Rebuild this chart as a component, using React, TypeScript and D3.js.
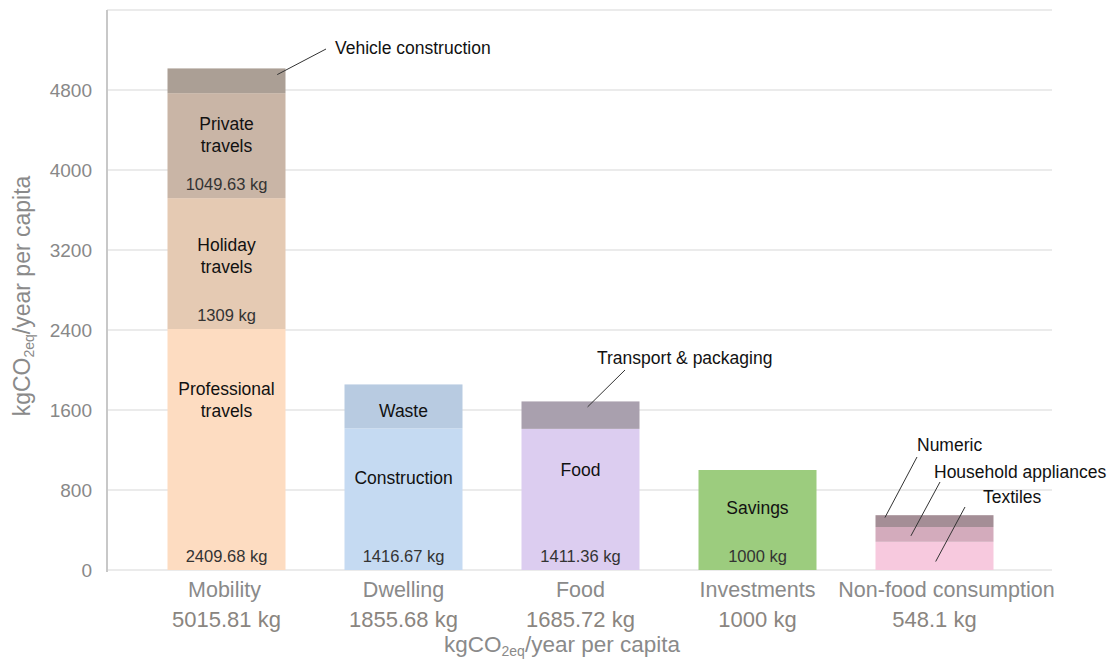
import React from "react";
import * as d3 from "d3";

const categories = ["Mobility", "Dwelling", "Food", "Investments", "Non-food consumption"];
const categoryTotals = ["5015.81 kg", "1855.68 kg", "1685.72 kg", "1000 kg", "548.1 kg"];

// segments stacked bottom to top per category
const mobilityNames = ["Professional travels", "Holiday travels", "Private travels", "Vehicle construction"];
const mobilityValues = [2409.68, 1309, 1049.63, 247.5];
const dwellingNames = ["Construction", "Waste"];
const dwellingValues = [1416.67, 439.01];
const foodNames = ["Food", "Transport & packaging"];
const foodValues = [1411.36, 274.36];
const investmentNames = ["Savings"];
const investmentValues = [1000];
const nonFoodNames = ["Textiles", "Household appliances", "Numeric"];
const nonFoodValues = [282, 148, 118.1];

const yTicks = [0, 800, 1600, 2400, 3200, 4000, 4800];

const colors: Record<string, string> = {
  "Professional travels": "#fddcc1",
  "Holiday travels": "#e5cab3",
  "Private travels": "#c9b5a6",
  "Vehicle construction": "#ab9f95",
  Construction: "#c5daf2",
  Waste: "#b8cbe1",
  Food: "#dccdf0",
  "Transport & packaging": "#a9a0ae",
  Savings: "#9ccc7e",
  Textiles: "#f7c9de",
  "Household appliances": "#d3abbc",
  Numeric: "#a48e96",
};

// in-bar label layout (lines, and distance of first-line centre below segment top)
const inLabels: Record<string, { lines: string[]; dy: number }> = {
  "Private travels": { lines: ["Private", "travels"], dy: 31 },
  "Holiday travels": { lines: ["Holiday", "travels"], dy: 47 },
  "Professional travels": { lines: ["Professional", "travels"], dy: 60 },
  Waste: { lines: ["Waste"], dy: 26 },
  Construction: { lines: ["Construction"], dy: 50 },
  Food: { lines: ["Food"], dy: 41 },
  Savings: { lines: ["Savings"], dy: 38 },
};
const showValue = new Set(["Professional travels", "Holiday travels", "Private travels", "Construction", "Food", "Savings"]);

// callouts: segment name, line start inside segment (fractions), text position, line end
const callouts = [
  { name: "Vehicle construction", fx: 0.93, fy: 0.25, tx: 335, ty: 48, lx: 326, ly: 49 },
  { name: "Transport & packaging", fx: 0.56, fy: 0.2, tx: 597, ty: 358, lx: 625, ly: 370 },
  { name: "Numeric", fx: 0.08, fy: 0.2, tx: 917, ty: 445, lx: 917, ly: 457 },
  { name: "Household appliances", fx: 0.3, fy: 0.6, tx: 934, ty: 472, lx: 940, ly: 482 },
  { name: "Textiles", fx: 0.51, fy: 0.7, tx: 983, ty: 497, lx: 965, ly: 507 },
];

const nameShift: Record<string, number> = { Mobility: -2, "Non-food consumption": 12 };

const groups = [
  { names: mobilityNames, values: mobilityValues },
  { names: dwellingNames, values: dwellingValues },
  { names: foodNames, values: foodValues },
  { names: investmentNames, values: investmentValues },
  { names: nonFoodNames, values: nonFoodValues },
];

const W = 1109;
const H = 660;
const FONT = "'Liberation Sans', Arial, sans-serif";

export default function App() {
  const x = d3.scaleBand<string>().domain(categories).range([138, 1023]).paddingInner(1 / 3).paddingOuter(1 / 6);
  const y = d3.scaleLinear().domain([0, 5600]).range([570, 10]);
  const gridTicks = [...yTicks, 5600];

  const segs: any[] = [];
  groups.forEach((g, i) => {
    let acc = 0;
    g.names.forEach((n, j) => {
      const v = g.values[j];
      segs.push({ cat: categories[i], name: n, y0: acc, y1: acc + v, v });
      acc += v;
    });
  });
  const segByName: Record<string, any> = {};
  segs.forEach((s) => (segByName[s.name] = s));
  const bw = x.bandwidth();

  return (
    <svg width={W} height={H} style={{ position: "absolute", left: 0, top: 0, fontFamily: FONT }}>
      <rect width={W} height={H} fill="#fff" />
      {gridTicks.map((t) => (
        <line key={t} x1={107} x2={1052} y1={y(t)} y2={y(t)} stroke="#ebebeb" strokeWidth={2} />
      ))}
      <line x1={107} x2={107} y1={10} y2={572} stroke="#c8c8c8" strokeWidth={2} />
      {yTicks.map((t) => (
        <text key={t} x={92} y={y(t)} dy="0.35em" textAnchor="end" fontSize={19} fill="#888">
          {t}
        </text>
      ))}
      {segs.map((s) => (
        <rect
          key={s.name}
          x={x(s.cat)!}
          width={bw}
          y={y(s.y1)}
          height={y(s.y0) - y(s.y1)}
          fill={colors[s.name]}
        />
      ))}
      {segs.map((s) => {
        const cx = x(s.cat)! + bw / 2;
        const lab = inLabels[s.name];
        return (
          <g key={"l" + s.name}>
            {lab &&
              lab.lines.map((ln, k) => (
                <text key={k} x={cx} y={y(s.y1) + lab.dy + k * 22} dy="0.35em" textAnchor="middle" fontSize={17.5} fill="#111">
                  {ln}
                </text>
              ))}
            {showValue.has(s.name) && (
              <text x={cx} y={y(s.y0) - 14} dy="0.35em" textAnchor="middle" fontSize={16.5} fill="#333">
                {d3.format(".2~f")(s.v) + " kg"}
              </text>
            )}
          </g>
        );
      })}
      {callouts.map((c) => {
        const s = segByName[c.name];
        const sx = x(s.cat)! + bw * c.fx;
        const sy = y(s.y1) + (y(s.y0) - y(s.y1)) * c.fy;
        return (
          <g key={"c" + c.name}>
            <line x1={sx} y1={sy} x2={c.lx} y2={c.ly} stroke="#333" strokeWidth={1} />
            <text x={c.tx} y={c.ty} dy="0.35em" fontSize={17.5} fill="#111">
              {c.name}
            </text>
          </g>
        );
      })}
      {categories.map((c, i) => (
        <g key={"x" + c}>
          <text x={x(c)! + bw / 2 + (nameShift[c] || 0)} y={589} dy="0.35em" textAnchor="middle" fontSize={21.5} fill="#8a8a8a">
            {c}
          </text>
          <text x={x(c)! + bw / 2} y={619} dy="0.35em" textAnchor="middle" fontSize={22} fill="#8a8580">
            {categoryTotals[i]}
          </text>
        </g>
      ))}
      <text x={562} y={644} dy="0.35em" textAnchor="middle" fontSize={22.5} fill="#8a8a8a">
        kgCO<tspan fontSize={14} dy="4">2eq</tspan>
        <tspan dy="-4">/year per capita</tspan>
      </text>
      <text
        transform="translate(22,296) rotate(-90)"
        dy="0.35em"
        textAnchor="middle"
        fontSize={23}
        fill="#8a8a8a"
      >
        kgCO<tspan fontSize={14} dy="4">2eq</tspan>
        <tspan dy="-4">/year per capita</tspan>
      </text>
    </svg>
  );
}
